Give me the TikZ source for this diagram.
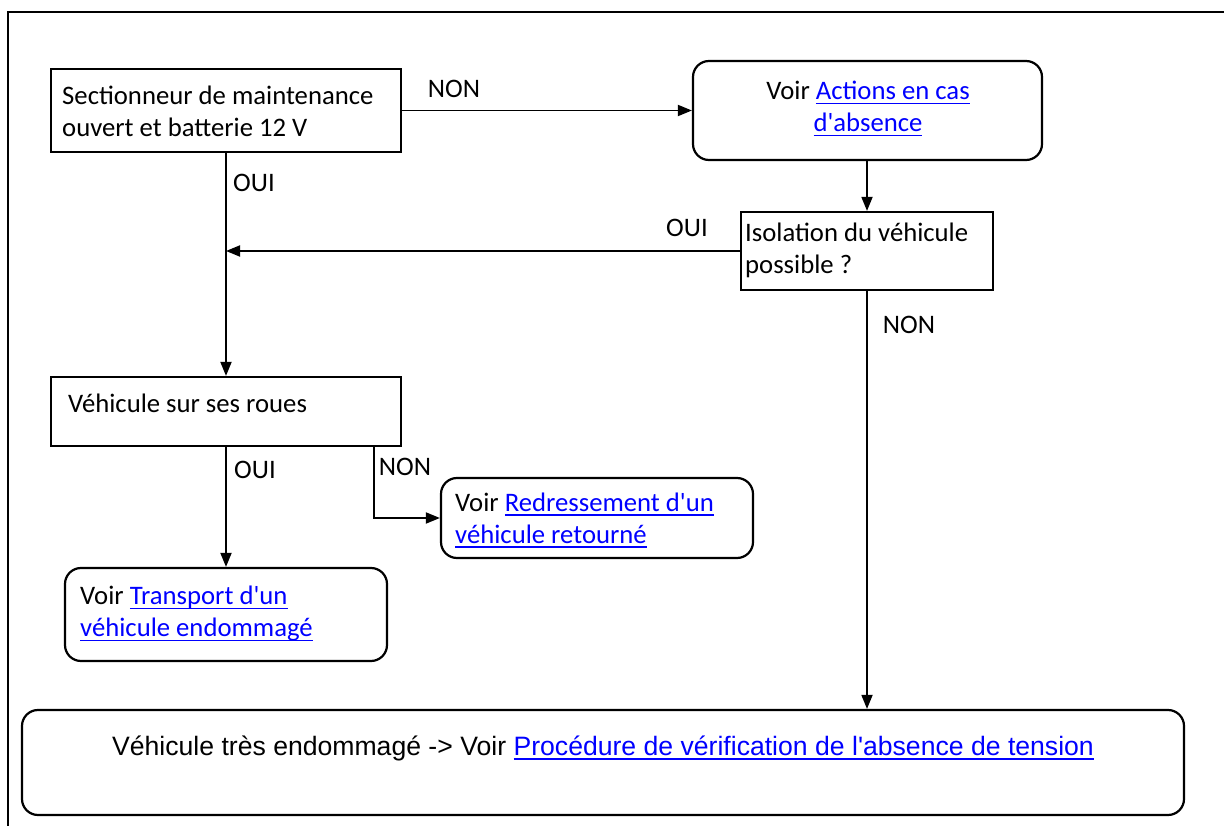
\documentclass[tikz,border=0pt]{standalone}
\usepackage{fontspec}
\setmainfont{Carlito}[Ligatures=TeXOff]
\newfontfamily\arialf{Liberation Sans}[Ligatures=TeXOff]
\usetikzlibrary{arrows.meta,calc}
\definecolor{linkblue}{RGB}{0,0,255}
\newcommand{\lnk}[1]{\textcolor{linkblue}{\setbox0\hbox{#1}\rlap{\rule[-4.5pt]{\wd0}{1.6pt}}\box0}}
\begin{document}
\begin{tikzpicture}[x=1pt,y=-1pt,
  every node/.style={font=\fontsize{26.7}{32}\selectfont, inner sep=0pt},
  sqbox/.style={draw, line width=2.2pt},
  rbox/.style={draw, line width=2.2pt, rounded corners=16pt},
  conn/.style={line width=1.8pt},
  arr/.style={conn, -{Triangle[length=14pt,width=11pt]}},
  txt/.style={align=left, anchor=west}]
\useasboundingbox (0,0) rectangle (1224,826);
\draw[line width=2.2pt] (8,826) -- (8,12) -- (1224,12);
% boxes
\node[sqbox, minimum width=350pt, minimum height=83pt] (A) at (226,110.5) {};
\node[rbox, minimum width=349pt, minimum height=99pt] (B) at (867.5,110.5) {};
\node[sqbox, minimum width=252pt, minimum height=78pt] (C) at (867,251) {};
\node[sqbox, minimum width=350pt, minimum height=69pt] (D) at (226,411.5) {};
\node[rbox, minimum width=322pt, minimum height=93pt] (E) at (226,614.5) {};
\node[rbox, minimum width=312pt, minimum height=80pt] (F) at (597,518) {};
\node[rbox, minimum width=1162pt, minimum height=105pt] (G) at (603,762.5) {};
% texts
\node[txt] (tA) at (62,111) {Sectionneur de maintenance\\ouvert et batterie 12 V};
\node[align=center] (tB) at (868,109) {Voir \lnk{Actions en cas}\\\lnk{d'absence}};
\node[txt] (tC) at (745,250) {Isolation du véhicule\\possible ?};
\node[txt] (tD) at (68,403) {Véhicule sur ses roues};
\node[txt] (tE) at (80,614) {Voir \lnk{Transport d'un}\\\lnk{véhicule endommagé}};
\node[txt] (tF) at (455,520) {Voir \lnk{Redressement d'un}\\\lnk{véhicule retourné}};
\node[font=\arialf\fontsize{26.6}{30}\selectfont] (tG) at (603,748) {Véhicule très endommagé -> Voir \lnk{Procédure de vérification de l'absence de tension}};
% labels
\node (l1) at (454,89) {NON};
\node (l2) at (254,183) {OUI};
\node (l3) at (687,228) {OUI};
\node (l4) at (909,325) {NON};
\node (l5) at (255,470) {OUI};
\node (l6) at (405,467) {NON};
% connectors
\draw[arr] (A.east) -- (B.west);
\draw[arr] (B.south -| C.north) -- (C.north);
\coordinate (J) at (A.south |- C.west);
\draw[arr] (C.west) -- (J);
\draw[arr] (A.south) -- (D.north);
\draw[arr] (C.south) -- (C.south |- G.north);
\draw[arr] (D.south) -- (E.north);
\coordinate (D2) at ($(D.south east)+(-28,0)$);
\draw[arr] (D2) |- (F.west);
\end{tikzpicture}
\end{document}
